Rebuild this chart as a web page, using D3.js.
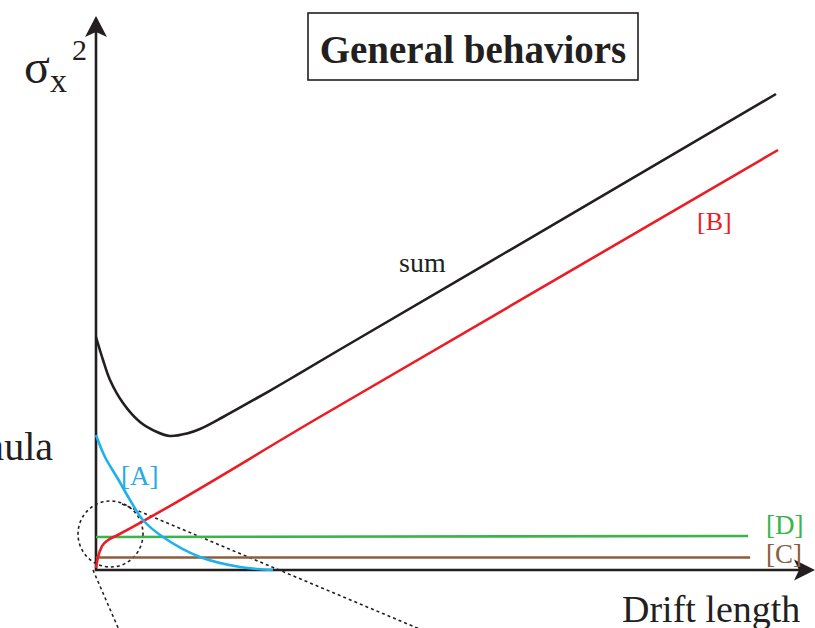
<!DOCTYPE html>
<html>
<head>
<meta charset="utf-8">
<script src="https://cdn.jsdelivr.net/npm/d3@7"></script>
<style>
  html, body { margin: 0; padding: 0; background: #fff; }
  svg { display: block; font-family: "Liberation Serif", "Times New Roman", serif; }
</style>
</head>
<body>
<svg id="chart" width="815" height="628"></svg>
<script>
// Contributions to the beam size squared versus drift length (arbitrary units)
const sumCurve = [
  [0, 46.6], [1.03, 42], [2.06, 38], [3.97, 33.4], [6.47, 29.6], [8.97, 27.6],
  [10.88, 26.8], [13.38, 27.3], [15.29, 28.2], [18.68, 30.6], [23.68, 34.4],
  [28.53, 38.2], [35.74, 44], [60, 63.3], [100, 95.2]
];
const termA = [
  [0, 27], [1.32, 22.6], [3.24, 18.2], [5, 14], [6.91, 10], [9.85, 6.6],
  [15.29, 2.6], [21.18, 0.6], [26.03, 0]
];
const termB = [
  [0, 0.4], [0.3, 2.6], [0.9, 4.8], [1.8, 6], [3.2, 7], [32.9, 30.6], [100.3, 84]
];
const termC = [[0, 2.5], [96.2, 2.5]];
const termD = [[0, 6.6], [95.9, 6.8]];
const seriesLabels = ["sum", "[A]", "[B]", "[C]", "[D]"];

const svg = d3.select("#chart");
const ink = "#231f20";
const colors = { sum: ink, A: "#1fb1ec", B: "#ed1c24", C: "#8b5e3c", D: "#39b54a" };

const x = d3.scaleLinear().domain([0, 100]).range([96, 776]);
const y = d3.scaleLinear().domain([0, 100]).range([570, 70]);

// zoom-in indicator: dotted circle around the origin region and its guide lines
const g0 = svg.append("g").attr("fill", "none").attr("stroke", ink)
  .attr("stroke-width", 1.6).attr("stroke-dasharray", "3,3");
g0.append("ellipse").attr("cx", 110.5).attr("cy", 534).attr("rx", 32.5).attr("ry", 33);
g0.append("line").attr("x1", 93).attr("y1", 570).attr("x2", 119).attr("y2", 630);
g0.append("line").attr("x1", 122).attr("y1", 504).attr("x2", 422).attr("y2", 630);

// axes
const axisG = svg.append("g");
axisG.append("line").attr("x1", x(0)).attr("y1", y(0) + 1).attr("x2", x(0)).attr("y2", 30)
  .attr("stroke", ink).attr("stroke-width", 2.6);
axisG.append("line").attr("x1", x(0) - 1).attr("y1", y(0)).attr("x2", 802).attr("y2", y(0))
  .attr("stroke", ink).attr("stroke-width", 2.6);
// arrow heads
axisG.append("path").attr("fill", ink)
  .attr("d", `M${x(0)},16 L107,37 L${x(0)},32 L85,37 Z`);
axisG.append("path").attr("fill", ink)
  .attr("d", `M815,${y(0)} L794,${y(0) - 10.5} L799,${y(0)} L794,${y(0) + 10.5} Z`);

const smooth = d3.line().x(d => x(d[0])).y(d => y(d[1])).curve(d3.curveCatmullRom.alpha(0.5));
const mono = d3.line().x(d => x(d[0])).y(d => y(d[1])).curve(d3.curveMonotoneX);

const curves = [
  { data: termC, color: colors.C, gen: mono },
  { data: termD, color: colors.D, gen: mono },
  { data: termB, color: colors.B, gen: mono },
  { data: termA, color: colors.A, gen: smooth },
  { data: sumCurve, color: colors.sum, gen: smooth }
];
svg.append("g").selectAll("path").data(curves).join("path")
  .attr("d", d => d.gen(d.data))
  .attr("fill", "none")
  .attr("stroke", d => d.color)
  .attr("stroke-width", 2.6)
  .attr("stroke-linecap", "butt");

// curve labels
const labels = [
  { t: seriesLabels[0], x: 399, y: 272, size: 28, c: ink },
  { t: seriesLabels[1], x: 121, y: 485, size: 27, c: "#29abe2" },
  { t: seriesLabels[2], x: 697, y: 230, size: 26, c: colors.B },
  { t: seriesLabels[3], x: 766, y: 563, size: 27, c: colors.C },
  { t: seriesLabels[4], x: 766, y: 534, size: 27, c: colors.D }
];
svg.append("g").selectAll("text").data(labels).join("text")
  .attr("x", d => d.x).attr("y", d => d.y)
  .attr("font-size", d => d.size)
  .attr("fill", d => d.c)
  .text(d => d.t);

// axis titles
svg.append("text").attr("x", 622).attr("y", 622).attr("font-size", 38).attr("fill", ink)
  .text("Drift length");
svg.append("text").attr("x", 24).attr("y", 83).attr("font-size", 48).attr("fill", ink).text("σ");
svg.append("text").attr("x", 50).attr("y", 92).attr("font-size", 34).attr("fill", ink).text("x");
svg.append("text").attr("x", 72).attr("y", 60).attr("font-size", 30).attr("fill", ink).text("2");

// side note running off the left edge
svg.append("text").attr("x", 53).attr("y", 460).attr("font-size", 40).attr("fill", ink)
  .attr("text-anchor", "end").text("formula");

// title box
svg.append("rect").attr("x", 308).attr("y", 13).attr("width", 330).attr("height", 67)
  .attr("fill", "#fff").attr("stroke", ink).attr("stroke-width", 1.6);
svg.append("text").attr("x", 473).attr("y", 63).attr("font-size", 39)
  .attr("font-weight", "bold").attr("text-anchor", "middle").attr("fill", ink)
  .text("General behaviors");
</script>
</body>
</html>
